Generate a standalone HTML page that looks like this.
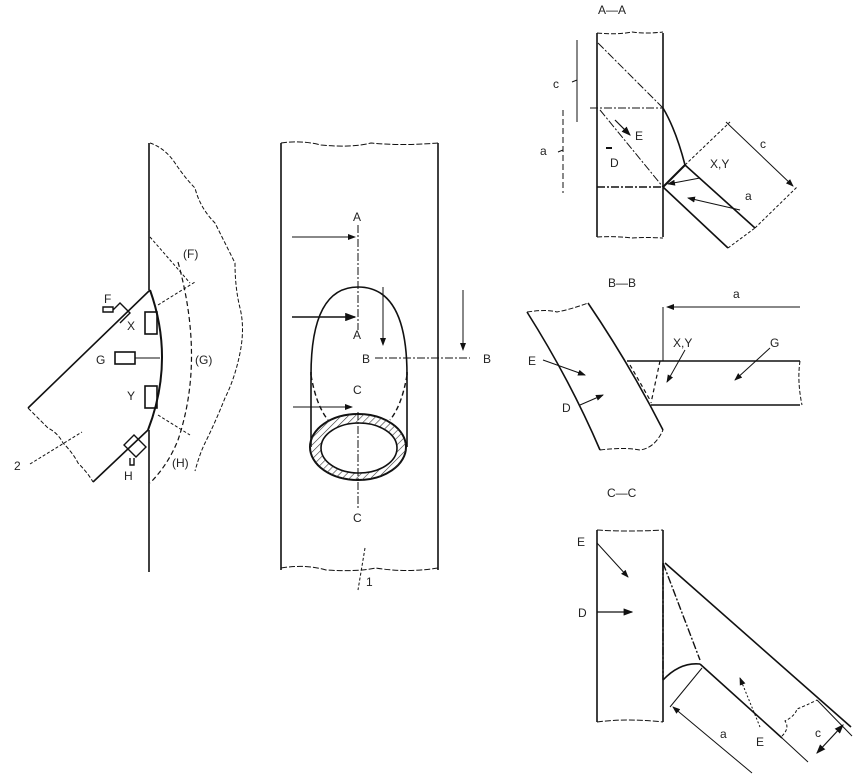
<!DOCTYPE html>
<html><head><meta charset="utf-8"><style>
html,body{margin:0;padding:0;background:#fff;}
svg{display:block;}
text{font-family:"Liberation Sans",sans-serif;font-size:12px;fill:#222;}
</style></head><body>
<svg width="861" height="779" viewBox="0 0 861 779" xmlns="http://www.w3.org/2000/svg">
<defs>
<marker id="ar" markerWidth="8" markerHeight="6" refX="7" refY="3" orient="auto"><path d="M0,0 L8,3 L0,6 z" fill="#111"/></marker>
<marker id="ars" markerWidth="8" markerHeight="6" refX="1" refY="3" orient="auto"><path d="M8,0 L0,3 L8,6 z" fill="#111"/></marker>
<pattern id="hat" width="5" height="5" patternUnits="userSpaceOnUse" patternTransform="rotate(45)"><line x1="0" y1="0" x2="0" y2="5" stroke="#333" stroke-width="1.2"/></pattern>
</defs>
<g fill="none" stroke="#111" stroke-width="1.6">
<!-- LEFT FIGURE -->
<line x1="149" y1="143" x2="149" y2="290"/>
<line x1="149" y1="430" x2="149" y2="572"/>
<path d="M150,143 q15,5 25,20 q10,15 20,25 q5,20 20,35 q10,20 20,40 q0,25 5,45 q5,20 0,45 q-5,25 -15,45 q-10,25 -20,45 q-5,10 -10,28" stroke-width="1" stroke-dasharray="4,2"/>
<line x1="150" y1="290" x2="28" y2="408"/>
<line x1="93" y1="482" x2="148" y2="430"/>
<path d="M28,408 q15,15 20,20 q10,5 15,15 q10,10 15,20 q10,10 15,19" stroke-width="1" stroke-dasharray="4,2"/>
<path d="M150,290 Q175,360 148,430" stroke-width="2"/>
<rect x="145" y="312" width="12" height="22" stroke-width="1.6"/>
<rect x="115" y="352" width="20" height="12"/>
<line x1="135" y1="358" x2="160" y2="358" stroke-width="1"/>
<rect x="145" y="386" width="12" height="22"/>
<path d="M103,312 l10,0 l0,-5 l-10,0 z M113,310 l7,-7 l10,10 l-10,10" stroke-width="1.4"/>
<path d="M124,445 l10,-10 l12,12 l-10,10 z M130,458 l0,7 l4,0 l0,-7" stroke-width="1.4"/>
<path d="M150,237 L190,283" stroke-width="1" stroke-dasharray="3,2"/>
<path d="M158,305 L195,282" stroke-width="1" stroke-dasharray="3,2"/>
<path d="M158,415 L190,435" stroke-width="1" stroke-dasharray="3,2"/>
<path d="M178,262 Q205,360 178,440 Q168,465 150,483" stroke-width="1.2" stroke-dasharray="5,3"/>
<line x1="30" y1="464" x2="82" y2="432" stroke-width="1" stroke-dasharray="3,2"/>
<!-- MIDDLE -->
<line x1="281" y1="143" x2="281" y2="570"/>
<line x1="438" y1="143" x2="438" y2="570"/>
<path d="M281,143 q20,-3 40,2 q30,3 50,-2 q30,3 67,0" stroke-width="1" stroke-dasharray="6,2"/>
<path d="M281,568 q25,-4 45,2 q30,2 50,-2 q30,5 62,0" stroke-width="1" stroke-dasharray="6,2"/>
<line x1="358" y1="225" x2="358" y2="330" stroke-width="1" stroke-dasharray="8,2,2,2"/>
<line x1="292" y1="237" x2="355" y2="237" stroke-width="1" marker-end="url(#ar)"/>
<line x1="292" y1="317" x2="355" y2="317" stroke-width="1.4" marker-end="url(#ar)"/>
<path d="M311,375 Q311,287 358,287 Q407,287 407,375" stroke-width="1.6"/>
<line x1="311" y1="372" x2="311" y2="447"/>
<line x1="407" y1="372" x2="407" y2="447"/>
<path d="M311,375 Q316,405 328,420 M407,375 Q402,405 390,420" stroke-width="1.4" stroke-dasharray="5,3"/>
<ellipse cx="358" cy="447" rx="48" ry="33" stroke-width="2"/>
<ellipse cx="358" cy="447" rx="48" ry="33" fill="url(#hat)" stroke="none"/>
<ellipse cx="359" cy="448" rx="38" ry="25" fill="#fff" stroke-width="1.6"/>
<line x1="383" y1="287" x2="383" y2="345" stroke-width="1" marker-end="url(#ar)"/>
<line x1="463" y1="290" x2="463" y2="350" stroke-width="1" marker-end="url(#ar)"/>
<line x1="375" y1="358" x2="470" y2="358" stroke-width="1" stroke-dasharray="8,2,2,2"/>
<line x1="293" y1="407" x2="352" y2="407" stroke-width="1" marker-end="url(#ar)"/>
<line x1="358" y1="412" x2="358" y2="510" stroke-width="1" stroke-dasharray="8,2,2,2"/>
<line x1="365" y1="548" x2="358" y2="590" stroke-width="1" stroke-dasharray="3,2"/>
<!-- A-A -->
<line x1="597" y1="33" x2="597" y2="237"/>
<line x1="663" y1="33" x2="663" y2="237"/>
<path d="M597,33 q20,2 35,-1 q15,2 31,0 M597,237 q20,-1 35,1 q15,-1 31,0" stroke-width="1" stroke-dasharray="5,2"/>
<line x1="590" y1="108" x2="663" y2="108" stroke-width="1" stroke-dasharray="8,2,2,2"/>
<line x1="597" y1="187" x2="663" y2="187" stroke-width="1.4" stroke-dasharray="8,2,2,2"/>
<line x1="598" y1="43" x2="663" y2="108" stroke-width="1" stroke-dasharray="8,2,2,2"/>
<line x1="600" y1="110" x2="663" y2="187" stroke-width="1" stroke-dasharray="8,2,2,2"/>
<line x1="615" y1="120" x2="630" y2="135" stroke-width="1.2" marker-end="url(#ar)"/>
<line x1="606" y1="148" x2="612" y2="148" stroke-width="2"/>
<path d="M663,108 Q676,130 685,165" stroke-width="1.6"/>
<line x1="663" y1="187" x2="685" y2="165" stroke-width="2"/>
<line x1="663" y1="187" x2="728" y2="248"/>
<line x1="685" y1="165" x2="755" y2="228"/>
<line x1="685" y1="165" x2="730" y2="122" stroke-width="1" stroke-dasharray="3,2"/>
<line x1="755" y1="228" x2="797" y2="187" stroke-width="1" stroke-dasharray="3,2"/>
<line x1="728" y1="248" x2="755" y2="228" stroke-width="1" stroke-dasharray="3,2"/>
<line x1="726" y1="122" x2="793" y2="186" stroke-width="1" marker-end="url(#ar)"/>
<line x1="700" y1="178" x2="668" y2="184" stroke-width="1" marker-end="url(#ar)"/>
<line x1="740" y1="210" x2="688" y2="198" stroke-width="1" marker-end="url(#ar)"/>
<path d="M577,40 L577,122 M577,80 L572,82" stroke-width="1"/>
<path d="M563,110 L563,193 M563,150 L558,152" stroke-width="1" stroke-dasharray="6,3"/>
<!-- B-B -->
<path d="M527,312 Q570,380 600,450" />
<path d="M588,303 Q630,365 663,430"/>
<path d="M527,312 q20,-3 30,0 q15,-3 31,-9 M600,450 q25,-3 40,0 q15,-2 23,-20" stroke-width="1" stroke-dasharray="5,2"/>
<line x1="627" y1="361" x2="800" y2="361"/>
<line x1="651" y1="405" x2="800" y2="405"/>
<path d="M800,361 q-3,20 2,44" stroke-width="1" stroke-dasharray="4,2"/>
<path d="M630,365 L650,400 M660,361 L651,403" stroke-width="1.2" stroke-dasharray="4,3"/>
<line x1="663" y1="307" x2="663" y2="361" stroke-width="1"/>
<line x1="800" y1="307" x2="667" y2="307" stroke-width="1" marker-end="url(#ar)"/>
<line x1="685" y1="350" x2="667" y2="382" stroke-width="1" marker-end="url(#ar)"/>
<line x1="770" y1="348" x2="735" y2="380" stroke-width="1" marker-end="url(#ar)"/>
<line x1="543" y1="360" x2="585" y2="375" stroke-width="1" marker-end="url(#ar)"/>
<line x1="580" y1="405" x2="603" y2="395" stroke-width="1" marker-end="url(#ar)"/>
<!-- C-C -->
<line x1="597" y1="530" x2="597" y2="722"/>
<line x1="663" y1="530" x2="663" y2="722"/>
<path d="M597,530 q30,2 66,0 M597,722 q30,-4 66,0" stroke-width="1" stroke-dasharray="6,2"/>
<line x1="665" y1="563" x2="851" y2="727"/>
<line x1="700" y1="664" x2="782" y2="738"/>
<line x1="782" y1="738" x2="808" y2="762" stroke-width="1"/>
<path d="M663,680 Q680,662 700,664" />
<line x1="663" y1="563" x2="700" y2="660" stroke-width="1.4" stroke-dasharray="8,2,2,2"/>
<line x1="663" y1="563" x2="663" y2="680" stroke-width="1.4" stroke-dasharray="8,2,2,2"/>
<line x1="597" y1="543" x2="628" y2="577" stroke-width="1" marker-end="url(#ar)"/>
<line x1="597" y1="612" x2="632" y2="612" stroke-width="1.2" marker-end="url(#ar)"/>
<line x1="702" y1="668" x2="670" y2="707" stroke-width="1"/>
<line x1="752" y1="773" x2="673" y2="707" stroke-width="1" marker-end="url(#ar)"/>
<line x1="760" y1="727" x2="740" y2="678" stroke-width="1" stroke-dasharray="2,2" marker-end="url(#ar)"/>
<path d="M782,736 q8,-8 3,-15 q10,-5 12,-12 q8,-3 20,-9" stroke-width="1" stroke-dasharray="3,2"/>
<line x1="817" y1="700" x2="852" y2="736" stroke-width="1"/>
<line x1="817" y1="753" x2="843" y2="725" stroke-width="1.2" marker-start="url(#ars)" marker-end="url(#ar)"/>
</g>
<g>
<text x="104" y="303" font-size="10">F</text>
<text x="127" y="330">X</text>
<text x="96" y="364">G</text>
<text x="127" y="400">Y</text>
<text x="124" y="480">H</text>
<text x="183" y="258" font-size="11">(F)</text>
<text x="195" y="364" font-size="11">(G)</text>
<text x="172" y="467" font-size="11">(H)</text>
<text x="14" y="470">2</text>
<text x="353" y="221" font-size="11">A</text>
<text x="353" y="339" font-size="11">A</text>
<text x="362" y="363" font-size="11">B</text>
<text x="483" y="363" font-size="11">B</text>
<text x="353" y="394" font-size="11">C</text>
<text x="353" y="522" font-size="11">C</text>
<text x="366" y="586" font-size="11">1</text>
<text x="598" y="14" font-size="11">A—A</text>
<text x="553" y="88" font-size="10">c</text>
<text x="540" y="155" font-size="10">a</text>
<text x="635" y="140">E</text>
<text x="610" y="167">D</text>
<text x="710" y="168" font-size="10">X,Y</text>
<text x="760" y="148" font-size="10">c</text>
<text x="745" y="200" font-size="10">a</text>
<text x="608" y="287" font-size="11">B—B</text>
<text x="733" y="298" font-size="10">a</text>
<text x="673" y="347" font-size="11">X,Y</text>
<text x="770" y="347" font-size="11">G</text>
<text x="528" y="365" font-size="11">E</text>
<text x="562" y="412" font-size="11">D</text>
<text x="607" y="497" font-size="11">C—C</text>
<text x="577" y="546" font-size="11">E</text>
<text x="578" y="617" font-size="11">D</text>
<text x="720" y="738" font-size="10">a</text>
<text x="756" y="746" font-size="11">E</text>
<text x="815" y="737" font-size="10">c</text>
</g>
</svg>
</body></html>
